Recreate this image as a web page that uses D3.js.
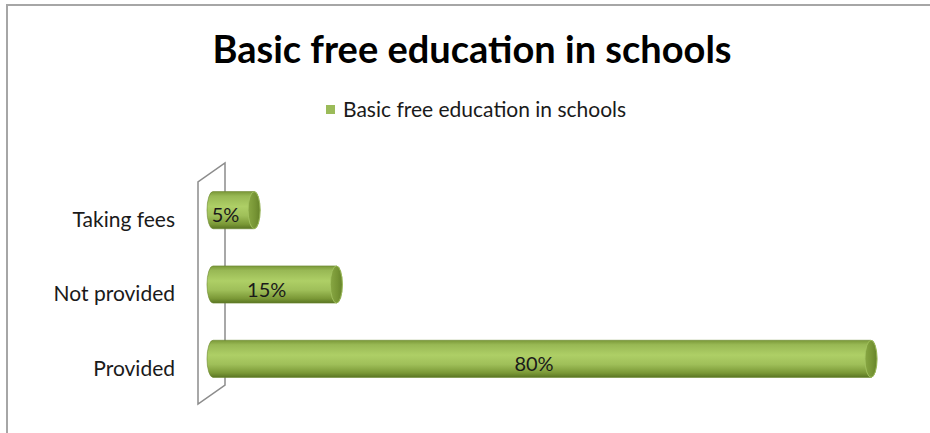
<!DOCTYPE html>
<html>
<head>
<meta charset="utf-8">
<script src="https://cdn.jsdelivr.net/npm/d3@7"></script>
<style>
html,body{margin:0;padding:0;background:#fff;}
svg{display:block;}
text{font-family:Lato,"Open Sans",sans-serif;}
</style>
</head>
<body>
<svg id="chart" width="930" height="433"></svg>
<script>
const title = "Basic free education in schools";
const seriesName = "Basic free education in schools";
const categories = ["Taking fees", "Not provided", "Provided"];
const values = [5, 15, 80];
const valueLabels = ["5%", "15%", "80%"];

const W = 930, H = 433;
const svg = d3.select("#chart");

// outer border
svg.append("rect").attr("x", 7).attr("y", 5).attr("width", 930).attr("height", 440)
  .attr("fill", "#fff").attr("stroke", "#a6a6a6").attr("stroke-width", 2);

// title
svg.append("text").attr("x", 472).attr("y", 63).attr("text-anchor", "middle")
  .attr("font-size", 38).attr("font-weight", "bold").attr("fill", "#000").text(title);

// legend
svg.append("rect").attr("x", 326).attr("y", 105).attr("width", 9).attr("height", 9).attr("fill", "#9bbb59");
svg.append("text").attr("x", 343).attr("y", 117).attr("font-size", 21).attr("fill", "#1a1a1a").text(seriesName);

// scales
const x = d3.scaleLinear().domain([0, 80]).range([213, 871]);
const y = d3.scaleBand().domain(categories).range([173, 396]).paddingInner(0.5).paddingOuter(0.25);

// back wall (parallelogram)
const wallTop = 163, wallBottom = 385, depthX = 27, depthY = 19;
const wx = 225;
svg.append("path")
  .attr("d", `M${wx},${wallTop} L${wx},${wallBottom} L${wx-depthX},${wallBottom+depthY} L${wx-depthX},${wallTop+depthY} Z`)
  .attr("fill", "none").attr("stroke", "#8c8c8c").attr("stroke-width", 1.5);

// gradients
const defs = svg.append("defs");
const g1 = defs.append("linearGradient").attr("id", "body").attr("x1", 0).attr("y1", 0).attr("x2", 0).attr("y2", 1);
[[0, "#7a9838"], [0.12, "#98b854"], [0.4, "#aecf66"], [0.65, "#9fbf59"], [0.88, "#7a9836"], [1, "#5a7524"]]
  .forEach(([o, c]) => g1.append("stop").attr("offset", o).attr("stop-color", c));
const g2 = defs.append("linearGradient").attr("id", "cap").attr("x1", 0).attr("y1", 0).attr("x2", 1).attr("y2", 0);
[[0, "#88a743"], [0.6, "#769434"], [1, "#66832a"]]
  .forEach(([o, c]) => g2.append("stop").attr("offset", o).attr("stop-color", c));

const rx = 6;
const bars = svg.append("g").selectAll("g").data(categories).join("g");
bars.each(function(c, i) {
  const g = d3.select(this);
  const y0 = y(c), h = y.bandwidth(), cy = y0 + h / 2;
  const x0 = x(0), x1 = x(values[i]);
  g.append("path")
    .attr("d", `M${x0},${y0} L${x1},${y0} A${rx},${h/2} 0 0 1 ${x1},${y0+h} L${x0},${y0+h} A${rx},${h/2} 0 0 1 ${x0},${y0} Z`)
    .attr("fill", "url(#body)").attr("stroke", "#6a872e").attr("stroke-width", 0.6);
  g.append("ellipse").attr("cx", x1).attr("cy", cy).attr("rx", rx).attr("ry", h / 2)
    .attr("fill", "url(#cap)").attr("stroke", "#a5c462").attr("stroke-width", 0.8);
  g.append("text").attr("x", (x0 + x1) / 2 - 8).attr("y", cy + 12).attr("text-anchor", "middle")
    .attr("font-size", 20).attr("fill", "#1a1a1a").text(valueLabels[i]);
});

// category axis labels
const yAxis = d3.axisLeft(y).tickSize(0).tickPadding(0);
const ax = svg.append("g").attr("transform", "translate(175,10)").call(yAxis);
ax.select(".domain").remove();
ax.selectAll("text").attr("font-size", 21).attr("fill", "#1a1a1a").attr("font-family", "Lato,'Open Sans',sans-serif");
</script>
</body>
</html>
